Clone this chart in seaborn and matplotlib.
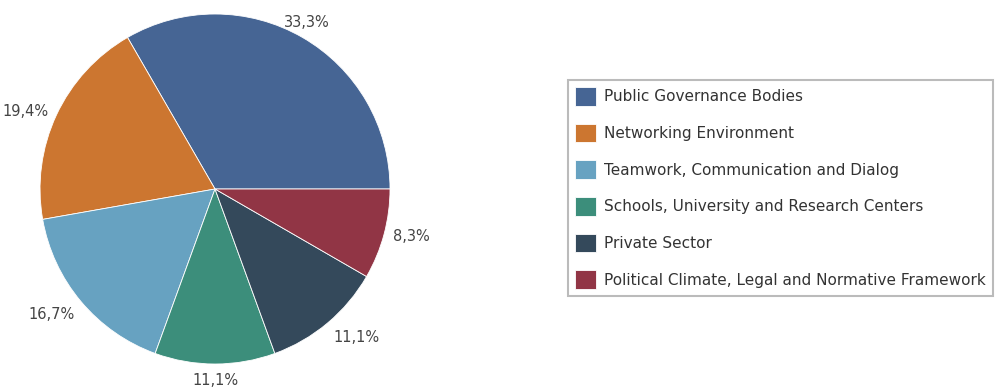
import matplotlib
matplotlib.use('Agg')
import matplotlib.pyplot as plt
import seaborn as sns
import numpy as np

# --- data ---
categories = [
    'Public Governance Bodies',
    'Networking Environment',
    'Teamwork, Communication and Dialog',
    'Schools, University and Research Centers',
    'Private Sector',
    'Political Climate, Legal and Normative Framework',
]
counts = [12, 7, 6, 4, 4, 3]
colors = ['#466594', '#CC7630', '#67A2C1', '#3C8E7B', '#34495B', '#913545']

sns.set_theme(style='white')
plt.rcParams['font.family'] = ['DejaVu Sans']

fig = plt.figure(figsize=(9.98, 3.87), dpi=100)
# square axes holding the pie on the left
ax = fig.add_axes([0.0401, 0.0594, 0.3507, 0.9044])

palette = sns.color_palette(colors)
wedges, texts, autotexts = ax.pie(
    counts,
    colors=palette,
    startangle=0,
    counterclock=True,
    radius=1.0,
    autopct=lambda p: f'{p:.1f}%'.replace('.', ','),
    pctdistance=1.05,
    wedgeprops=dict(edgecolor='white', linewidth=0.6),
    textprops=dict(color='#444444', fontsize=10.5),
)

# anchor labels outside the rim, aligned away from the pie
for w, t in zip(wedges, autotexts):
    ang = np.deg2rad((w.theta1 + w.theta2) / 2)
    c, s = np.cos(ang), np.sin(ang)
    t.set_ha('left' if c > 0.6 else ('right' if c < -0.6 else 'center'))
    t.set_va('bottom' if s > 0.5 else ('top' if s < -0.5 else 'center'))

ax.set_xlim(-1, 1)
ax.set_ylim(-1, 1)
ax.set_aspect('equal')

leg = fig.legend(
    wedges, categories,
    loc='upper left',
    bbox_to_anchor=(568 / 998, 1 - 80 / 387),
    bbox_transform=fig.transFigure,
    frameon=True,
    fancybox=False,
    fontsize=11,
    labelspacing=1.18,
    handlelength=1.35,
    handleheight=1.5,
    handletextpad=0.55,
    borderpad=0.45,
    borderaxespad=0,
    labelcolor='#333333',
)
leg.get_frame().set_edgecolor('#aaaaaa')
leg.get_frame().set_linewidth(1.5)

fig.savefig('out.png', dpi=100)
